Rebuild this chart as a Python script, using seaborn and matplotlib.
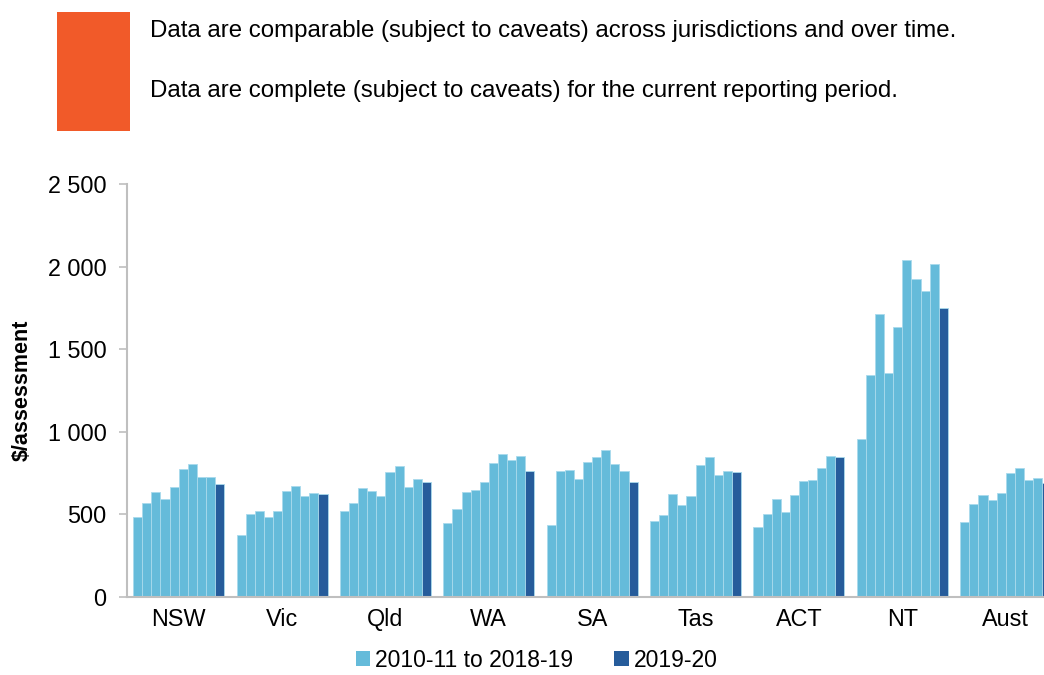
import pandas as pd
import matplotlib.pyplot as plt
import seaborn as sns
from matplotlib.patches import Patch, Rectangle
from matplotlib.ticker import FuncFormatter

jurisdictions = ['NSW', 'Vic', 'Qld', 'WA', 'SA', 'Tas', 'ACT', 'NT', 'Aust']
years = ['2010-11', '2011-12', '2012-13', '2013-14', '2014-15',
         '2015-16', '2016-17', '2017-18', '2018-19', '2019-20']

nsw = [483, 570, 632, 590, 665, 774, 802, 727, 727, 681]
vic = [374, 501, 519, 485, 521, 640, 669, 612, 630, 624]
qld = [519, 566, 657, 642, 608, 755, 792, 665, 715, 697]
wa = [446, 531, 634, 648, 693, 812, 867, 830, 850, 762]
sa = [436, 760, 770, 715, 816, 848, 887, 802, 762, 693]
tas = [457, 493, 620, 556, 612, 796, 844, 735, 764, 758]
act = [424, 501, 594, 515, 614, 699, 707, 778, 850, 844]
nt = [953, 1343, 1711, 1355, 1634, 2040, 1925, 1852, 2016, 1753]
aust = [452, 562, 618, 586, 628, 749, 782, 705, 721, 687]

values = [nsw, vic, qld, wa, sa, tas, act, nt, aust]

rows = []
for j, vals in zip(jurisdictions, values):
    for y, v in zip(years, vals):
        rows.append({'jurisdiction': j, 'year': y, 'value': v})
df = pd.DataFrame(rows)

light = '#65BBDA'
dark = '#265C9B'
palette = [light] * 9 + [dark]

plt.rcParams['font.family'] = ['Liberation Sans', 'DejaVu Sans']

fig = plt.figure(figsize=(10.44, 6.75), dpi=100)
ax = fig.add_axes([0.1221, 0.116, 0.8779, 0.611])

sns.barplot(data=df, x='jurisdiction', y='value', hue='year',
            order=jurisdictions, hue_order=years, palette=palette,
            saturation=1, width=0.88, gap=0, legend=False,
            edgecolor='#A9DAEC', linewidth=0.6, ax=ax)

ax.set_xlim(-0.495, 8.37)
ax.set_ylim(0, 2500)
ax.set_yticks([0, 500, 1000, 1500, 2000, 2500])
ax.yaxis.set_major_formatter(FuncFormatter(lambda v, p: f'{int(v):,}'.replace(',', ' ')))
ax.set_xlabel('')
ax.set_ylabel('$/assessment', fontsize=15.5, fontweight='bold')
ax.yaxis.set_label_coords(-0.103, 0.5)

for s in ['top', 'right']:
    ax.spines[s].set_visible(False)
for s in ['left', 'bottom']:
    ax.spines[s].set_color('#BFBFBF')
    ax.spines[s].set_linewidth(1.5)
ax.tick_params(axis='y', length=6, width=1.2, color='#BFBFBF', labelsize=16.8, pad=9)
ax.tick_params(axis='x', length=0, labelsize=16.8, pad=8)

# header box and notes
fig.patches.append(Rectangle((0.0546, 0.806), 0.0699, 0.176, transform=fig.transFigure,
                             facecolor='#F15A29', edgecolor='none'))
fig.text(0.1437, 0.954, 'Data are comparable (subject to caveats) across jurisdictions and over time.',
         fontsize=17.3, va='center', ha='left')
fig.text(0.1437, 0.865, 'Data are complete (subject to caveats) for the current reporting period.',
         fontsize=17.3, va='center', ha='left')

handles = [Patch(facecolor=light, edgecolor='none', label='2010-11 to 2018-19'),
           Patch(facecolor=dark, edgecolor='none', label='2019-20')]
fig.legend(handles=handles, loc='center', bbox_to_anchor=(0.514, 0.022), ncol=2,
           frameon=False, fontsize=16.5, handlelength=0.65, handleheight=0.65,
           handletextpad=0.2, columnspacing=1.8, borderpad=0)

fig.savefig('out.png', dpi=100)
